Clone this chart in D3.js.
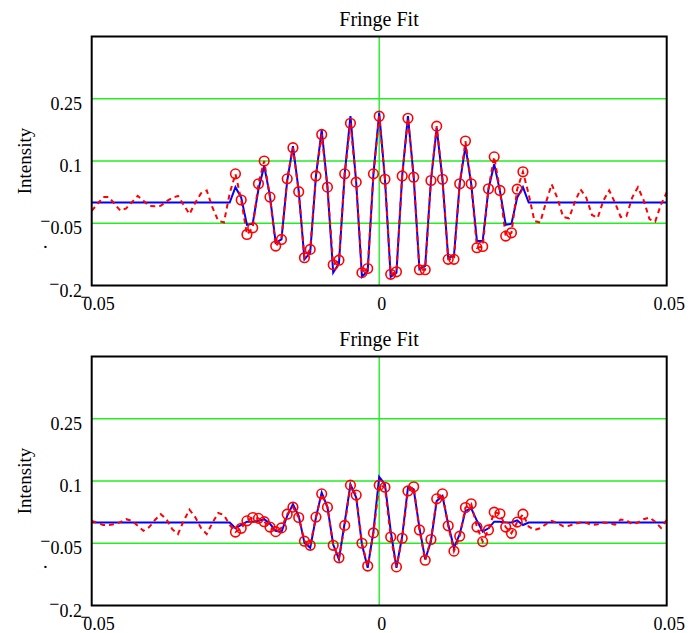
<!DOCTYPE html>
<html>
<head>
<meta charset="utf-8">
<script src="https://cdn.jsdelivr.net/npm/d3@7/dist/d3.min.js"></script>
<style>
  body { margin: 0; background: #ffffff; }
  svg { display: block; }
  text { font-family: "Liberation Serif", "Times New Roman", serif; fill: #000; }
</style>
</head>
<body>
<svg id="chart" width="693" height="633"></svg>
<script>
// Sampling grid of the interferogram (optical path difference)
const sampleStart = -0.05;
const sampleStep = 0.001;
const sampleCount = 101;
// Range of samples that enter the fit (shown with circle markers)
const fitWindow = [-0.025, 0.025];

const xTicks = [-0.05, 0, 0.05];
const yTicks = [-0.2, -0.05, 0.1, 0.25];
const yGridValues = [-0.05, 0.1, 0.25];
const xGridValues = [0];
const titleText = "Fringe Fit";
const yLabelText = "Intensity";

// Panel 1: measured intensity
const topMeasured = [
  -0.020, -0.004, 0.013, 0.013, -0.004, -0.020, -0.014, 0.001, 0.016, 0.004,
  -0.008, -0.009, -0.008, 0.003, 0.011, 0.016, -0.006, -0.028, -0.001, 0.022,
  0.029, -0.012, -0.044, -0.048, 0.022,
  0.069, 0.006, -0.077, -0.061, 0.045, 0.100, 0.013, -0.105, -0.089, 0.057,
  0.132, 0.026, -0.133, -0.113, 0.064, 0.164, 0.037, -0.150, -0.139, 0.069,
  0.191, 0.049, -0.169, -0.159, 0.069, 0.208, 0.056, -0.173, -0.167, 0.064,
  0.203, 0.061, -0.162, -0.162, 0.053, 0.184, 0.056, -0.137, -0.137, 0.045,
  0.148, 0.045, -0.109, -0.106, 0.033, 0.110, 0.029, -0.081, -0.073, 0.032,
  0.074,
  0.020, -0.045, -0.048, 0.000, 0.044, 0.010, -0.035, -0.038, 0.000, 0.032,
  0.012, -0.030, -0.037, 0.005, 0.029, 0.000, -0.035, -0.033, 0.012, 0.037,
  0.005, -0.040, -0.046, -0.005, 0.024
];

// Panel 1: fitted fringe model
const topFit = [
  0, 0, 0, 0, 0, 0, 0, 0, 0, 0,
  0, 0, 0, 0, 0, 0, 0, 0, 0, 0,
  0, 0, 0, 0, 0,
  0.037, 0.012, -0.054, -0.051, 0.032, 0.088, 0.016, -0.097, -0.089, 0.052,
  0.136, 0.028, -0.137, -0.121, 0.064, 0.175, 0.037, -0.169, -0.147, 0.069,
  0.208, 0.048, -0.179, -0.165, 0.069, 0.216, 0.056, -0.179, -0.169, 0.064,
  0.208, 0.061, -0.161, -0.153, 0.053, 0.180, 0.056, -0.133, -0.129, 0.045,
  0.136, 0.045, -0.093, -0.093, 0.032, 0.092, 0.028, -0.054, -0.051, 0.012,
  0.037,
  0, 0, 0, 0, 0, 0, 0, 0, 0, 0,
  0, 0, 0, 0, 0, 0, 0, 0, 0, 0,
  0, 0, 0, 0, 0
];

// Panel 2: measured intensity
const bottomMeasured = [
  0.004, -0.001, -0.006, -0.006, -0.004, 0.001, 0.008, 0.004, -0.008, -0.020,
  -0.011, 0.006, 0.020, 0.008, -0.016, -0.028, 0.004, 0.031, 0.013, -0.013,
  -0.028, -0.001, 0.023, 0.018, -0.006,
  -0.023, -0.014, 0.004, 0.012, 0.010, 0.002, -0.011, -0.022, -0.013, 0.020,
  0.037, 0.012, -0.045, -0.055, 0.013, 0.069, 0.037, -0.055, -0.085, -0.007,
  0.090, 0.066, -0.050, -0.105, -0.025, 0.090, 0.085, -0.035, -0.107, -0.038,
  0.076, 0.086, -0.018, -0.091, -0.041, 0.057, 0.069, -0.008, -0.069, -0.033,
  0.036, 0.045, -0.011, -0.046, -0.018, 0.025, 0.021, -0.011, -0.026, 0.001,
  0.020,
  -0.010, -0.018, -0.014, -0.004, 0.004, -0.002, -0.009, -0.008, -0.003, 0.000,
  -0.001, -0.006, -0.004, 0.000, -0.002, -0.005, 0.007, 0.005, -0.004, 0.000,
  0.008, 0.012, 0.002, -0.013, 0.006
];

// Panel 2: fitted fringe model
const bottomFit = [
  0, 0, 0, 0, 0, 0, 0, 0, 0, 0,
  0, 0, 0, 0, 0, 0, 0, 0, 0, 0,
  0, 0, 0, 0, 0,
  -0.014, -0.006, 0.002, 0.002, 0.004, 0.008, -0.003, -0.020, -0.023, 0.016,
  0.044, 0.016, -0.049, -0.061, 0.012, 0.072, 0.037, -0.053, -0.089, 0.000,
  0.092, 0.060, -0.053, -0.109, -0.021, 0.110, 0.092, -0.020, -0.109, -0.033,
  0.084, 0.080, -0.013, -0.089, -0.045, 0.052, 0.064, -0.004, -0.061, -0.028,
  0.028, 0.034, 0.004, -0.022, -0.014, 0.002, 0.002, 0.000, 0.000, 0.005,
  -0.006,
  0, 0, 0, 0, 0, 0, 0, 0, 0, 0,
  0, 0, 0, 0, 0, 0, 0, 0, 0, 0,
  0, 0, 0, 0, 0
];

const positions = d3.range(sampleCount).map(i => +(sampleStart + i * sampleStep).toFixed(4));

const svg = d3.select("#chart");
const plotLeft = 91.7, plotRight = 666.7, plotTop = 36.5, plotBottom = 285.5;
const GRID = "#22ee22", RED = "#ff0000", BLUE = "#0000ff";

const x = d3.scaleLinear().domain([-0.05, 0.05]).range([plotLeft, plotRight]);
const y = d3.scaleLinear().domain([-0.2, 0.4]).range([plotBottom, plotTop]);

// Write a number with the raised minus sign used by the worksheet
function signedLabel(sel, v, anchor) {
  const s = d3.format("")(v);
  sel.text(null);
  if (v < 0) {
    sel.append("tspan").attr("dy", -7).text("\u2212");
    const t = sel.append("tspan").attr("dy", 7).text(s.replace("-", "").replace("\u2212", ""));
    if (anchor === "x") t.attr("dx", -7);
  } else {
    sel.append("tspan").text(s);
  }
}

function drawPanel(offsetY, measured, fit) {
  const g = svg.append("g").attr("transform", `translate(0,${offsetY})`);
  const pts = positions.map((p, i) => ({ p, m: measured[i], f: fit[i] }));

  // grid
  g.append("g").selectAll("line.h").data(yGridValues).join("line")
    .attr("x1", plotLeft).attr("x2", plotRight)
    .attr("y1", d => y(d)).attr("y2", d => y(d))
    .attr("stroke", GRID).attr("stroke-width", 1.4);
  g.append("g").selectAll("line.v").data(xGridValues).join("line")
    .attr("x1", d => x(d)).attr("x2", d => x(d))
    .attr("y1", plotTop).attr("y2", plotBottom)
    .attr("stroke", GRID).attr("stroke-width", 1.4);

  // fit
  g.append("path").datum(pts)
    .attr("d", d3.line().x(d => x(d.p)).y(d => y(d.f)))
    .attr("fill", "none").attr("stroke", BLUE).attr("stroke-width", 2)
    .attr("stroke-linejoin", "miter");

  // measured trace
  g.append("path").datum(pts)
    .attr("d", d3.line().x(d => x(d.p)).y(d => y(d.m)))
    .attr("fill", "none").attr("stroke", RED).attr("stroke-width", 2)
    .attr("stroke-dasharray", "5,4");

  // fitted samples
  g.append("g").selectAll("circle")
    .data(pts.filter(d => d.p >= fitWindow[0] - 1e-9 && d.p <= fitWindow[1] + 1e-9))
    .join("circle")
    .attr("cx", d => x(d.p)).attr("cy", d => y(d.m)).attr("r", 4.8)
    .attr("fill", "none").attr("stroke", RED).attr("stroke-width", 1.6);

  // frame
  g.append("rect")
    .attr("x", plotLeft).attr("y", plotTop)
    .attr("width", plotRight - plotLeft).attr("height", plotBottom - plotTop)
    .attr("fill", "none").attr("stroke", "#000").attr("stroke-width", 2);

  // y axis labels
  const ya = g.append("g").attr("transform", `translate(82,0)`)
    .call(d3.axisLeft(y).tickValues(yTicks).tickSize(0).tickPadding(0));
  ya.select(".domain").remove();
  ya.selectAll("text")
    .attr("x", 0).attr("dy", null).attr("y", 10.5)
    .attr("text-anchor", "end")
    .style("font-family", '"Liberation Serif", "Times New Roman", serif')
    .style("font-size", "18px").attr("fill", "#000")
    .each(function (d) { signedLabel(d3.select(this), d, "y"); });

  // x axis labels
  const xa = g.append("g").attr("transform", `translate(0,310)`)
    .call(d3.axisBottom(x).tickValues(xTicks).tickSize(0).tickPadding(0));
  xa.select(".domain").remove();
  xa.selectAll("text")
    .attr("y", 0).attr("dy", null)
    .style("font-family", '"Liberation Serif", "Times New Roman", serif')
    .style("font-size", "18px").attr("fill", "#000")
    .each(function (d) {
      const t = d3.select(this);
      if (d < 0) t.attr("text-anchor", "start").attr("x", -12);
      else t.attr("text-anchor", "middle").attr("x", 2);
      signedLabel(t, d, "x");
    });

  // title
  g.append("text").attr("x", 379).attr("y", 26)
    .attr("text-anchor", "middle").style("font-size", "20px").text(titleText);

  // y label
  g.append("text")
    .attr("transform", `translate(31,${161}) rotate(-90)`)
    .attr("text-anchor", "middle").style("font-size", "19px").text(yLabelText);
  g.append("text").attr("x", 43).attr("y", 248)
    .style("font-size", "19px").text(".");
}

drawPanel(0, topMeasured, topFit);
drawPanel(320, bottomMeasured, bottomFit);
</script>
</body>
</html>
